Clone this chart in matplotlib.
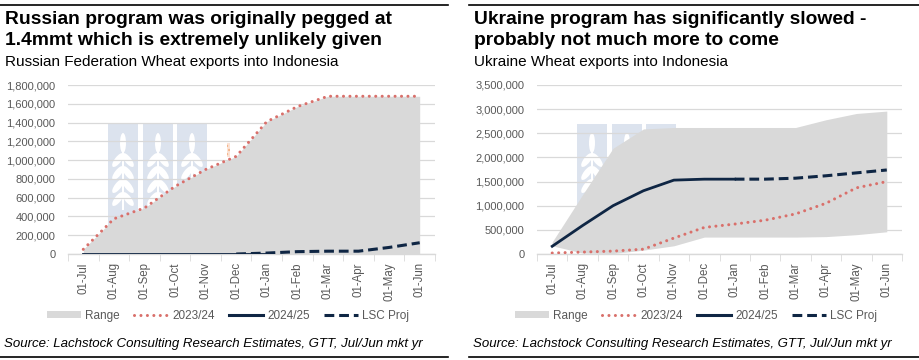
import numpy as np
import matplotlib
matplotlib.use("Agg")
import matplotlib.pyplot as plt
from matplotlib.patches import Rectangle, Ellipse, Patch
from matplotlib.lines import Line2D
from matplotlib.ticker import FuncFormatter, MultipleLocator

# ---------------------------------------------------------------- data
months = ["01-Jul", "01-Aug", "01-Sep", "01-Oct", "01-Nov", "01-Dec",
          "01-Jan", "01-Feb", "01-Mar", "01-Apr", "01-May", "01-Jun"]

# Russia
ru_range_low = [0, 0, 0, 0, 0, 0, 0, 0, 0, 0, 0, 0]
ru_range_high = [50000, 375000, 490000, 720000, 900000, 1040000,
                 1410000, 1570000, 1680000, 1680000, 1680000, 1680000]
ru_2324 = [50000, 375000, 490000, 720000, 900000, 1040000,
           1410000, 1570000, 1680000, 1680000, 1680000, 1680000]
ru_2425 = [0, 0, 0, 0, 0, 0, 0]
ru_proj = [0, 10000, 25000, 30000, 30000, 70000, 120000]   # Jan..Jun

# Ukraine
ua_range_low = [170000, 20000, 10000, 80000, 170000, 350000,
                350000, 350000, 350000, 360000, 400000, 460000]
ua_range_high = [250000, 1230000, 2190000, 2590000, 2620000, 2620000,
                 2620000, 2620000, 2620000, 2780000, 2910000, 2960000]
ua_2324 = [20000, 40000, 60000, 100000, 330000, 550000,
           620000, 700000, 830000, 1050000, 1370000, 1500000]
ua_2425 = [160000, 590000, 1000000, 1310000, 1530000, 1550000, 1550000]
ua_proj = [1550000, 1550000, 1570000, 1620000, 1680000, 1740000]  # Jan..Jun

# ---------------------------------------------------------------- style
W, H = 920, 360
NAVY = "#0f2644"
RED = "#d9706b"
GREY = "#d9d9d9"
WM = "#dce3ee"
TXT = "#595959"

plt.rcParams["font.family"] = ["Liberation Sans", "DejaVu Sans"]

fig = plt.figure(figsize=(W / 100, H / 100), dpi=100)

# background axes in pixel units, for the logo watermark and frame lines
bg = fig.add_axes([0, 0, 1, 1], zorder=-1)
bg.set_xlim(0, W)
bg.set_ylim(H, 0)
bg.axis("off")


def fx(px):
    return px / W


def fy(py):
    return 1 - py / H


def px_axes(x0, y0, x1, y1):
    ax = fig.add_axes([fx(x0), fy(y1), fx(x1 - x0), (y1 - y0) / H], zorder=1)
    ax.set_facecolor("none")
    return ax


def watermark(lefts, top=124, bottom=245):
    for x0 in lefts:
        bg.add_patch(Rectangle((x0, top), 30, bottom - top, color=WM, lw=0))
        cx = x0 + 15
        # simple wheat ear
        bg.add_patch(Ellipse((cx, 143), 6, 20, color="white", lw=0))
        for k in range(4):
            yy = 160 + k * 13
            for s in (-1, 1):
                bg.add_patch(Ellipse((cx + s * 5, yy), 6.5, 17, angle=-s * 38,
                                     color="white", lw=0))
        bg.add_patch(Rectangle((cx - 1, 150), 2, 60, color="white", lw=0))


def panel(ax, low, high, s2324, s2425, proj, ymax, ystep):
    x = np.arange(len(months))
    ax.fill_between(x, low, high, color=GREY, lw=0, zorder=1)
    ax.plot(x, s2324, color=RED, lw=2.2, ls=(0, (0.01, 2.1)),
            dash_capstyle="round", zorder=3)
    ax.plot(x[:len(s2425)], s2425, color=NAVY, lw=2.0, zorder=4)
    ax.plot(x[len(x) - len(proj):], proj, color=NAVY, lw=2.2, ls=(0, (3.2, 1.6)), zorder=4)

    ax.set_xlim(-0.5, len(months) - 0.5)
    ax.set_ylim(0, ymax)
    ax.yaxis.set_major_locator(MultipleLocator(ystep))
    ax.yaxis.set_major_formatter(FuncFormatter(lambda v, p: f"{v:,.0f}"))
    ax.grid(axis="y", color=GREY, lw=0.9, zorder=0)
    ax.set_axisbelow(True)
    for sp in ("top", "right", "left"):
        ax.spines[sp].set_visible(False)
    ax.spines["bottom"].set_color(GREY)
    ax.spines["bottom"].set_linewidth(1.0)

    ax.set_xticks(x)
    ax.set_xticklabels(months, rotation=90)
    ax.set_xticks(np.arange(-0.5, len(months)), minor=True)
    ax.tick_params(axis="x", which="major", length=0, pad=6, labelsize=8.3, labelcolor=TXT)
    ax.tick_params(axis="x", which="minor", length=5, color=GREY)
    ax.tick_params(axis="y", length=0, pad=9, labelsize=8, labelcolor=TXT)


def legend(cx):
    handles = [
        Patch(facecolor=GREY, edgecolor="none"),
        Line2D([], [], color=RED, lw=2.2, ls=(0, (0.01, 2.1)), dash_capstyle="round"),
        Line2D([], [], color=NAVY, lw=2.2),
        Line2D([], [], color=NAVY, lw=2.2, ls=(0, (3.2, 1.6))),
    ]
    labels = ["Range", "2023/24", "2024/25", "LSC Proj"]
    fig.legend(handles, labels, loc="center", bbox_to_anchor=(fx(cx), fy(316)),
               ncol=4, frameon=False, handlelength=2.9, handleheight=0.55,
               handletextpad=0.35, columnspacing=1.2,
               prop={"size": 8.5}, labelcolor=TXT)


def header(x0, x1, lines, sub):
    bg.plot([x0, x1], [5, 5], color="black", lw=1.2)
    bg.plot([x0, x1], [357, 357], color="black", lw=1.2)
    fig.text(fx(x0 + 5), fy(24), lines[0], fontsize=13.9, fontweight="bold", va="baseline")
    fig.text(fx(x0 + 5), fy(45), lines[1], fontsize=13.9, fontweight="bold", va="baseline")
    fig.text(fx(x0 + 5), fy(66), sub, fontsize=11, va="baseline")
    fig.text(fx(x0 + 4), fy(347), "Source: Lachstock Consulting Research Estimates, GTT, Jul/Jun mkt yr",
             fontsize=9.5, style="italic", va="baseline")


# ---------------------------------------------------------------- left: Russia
watermark([108, 143, 177])
bg.add_patch(Rectangle((227, 143), 3, 14, facecolor="#fbe3d6", edgecolor="#f4b183",
                       hatch="....", lw=0))
axl = px_axes(68, 85, 435, 254)
panel(axl, ru_range_low, ru_range_high, ru_2324, ru_2425, ru_proj, 1800000, 200000)
legend(228)
header(0, 448, ["Russian program was originally pegged at",
                "1.4mmt which is extremely unlikely given"],
       "Russian Federation Wheat exports into Indonesia")

# ---------------------------------------------------------------- right: Ukraine
watermark([577, 612, 646])
axr = px_axes(537, 85, 902, 254)
panel(axr, ua_range_low, ua_range_high, ua_2324, ua_2425, ua_proj, 3500000, 500000)
legend(696)
header(469, 920, ["Ukraine program has significantly slowed -",
                  "probably not much more to come"],
       "Ukraine Wheat exports into Indonesia")

fig.savefig("out.png", dpi=100)
